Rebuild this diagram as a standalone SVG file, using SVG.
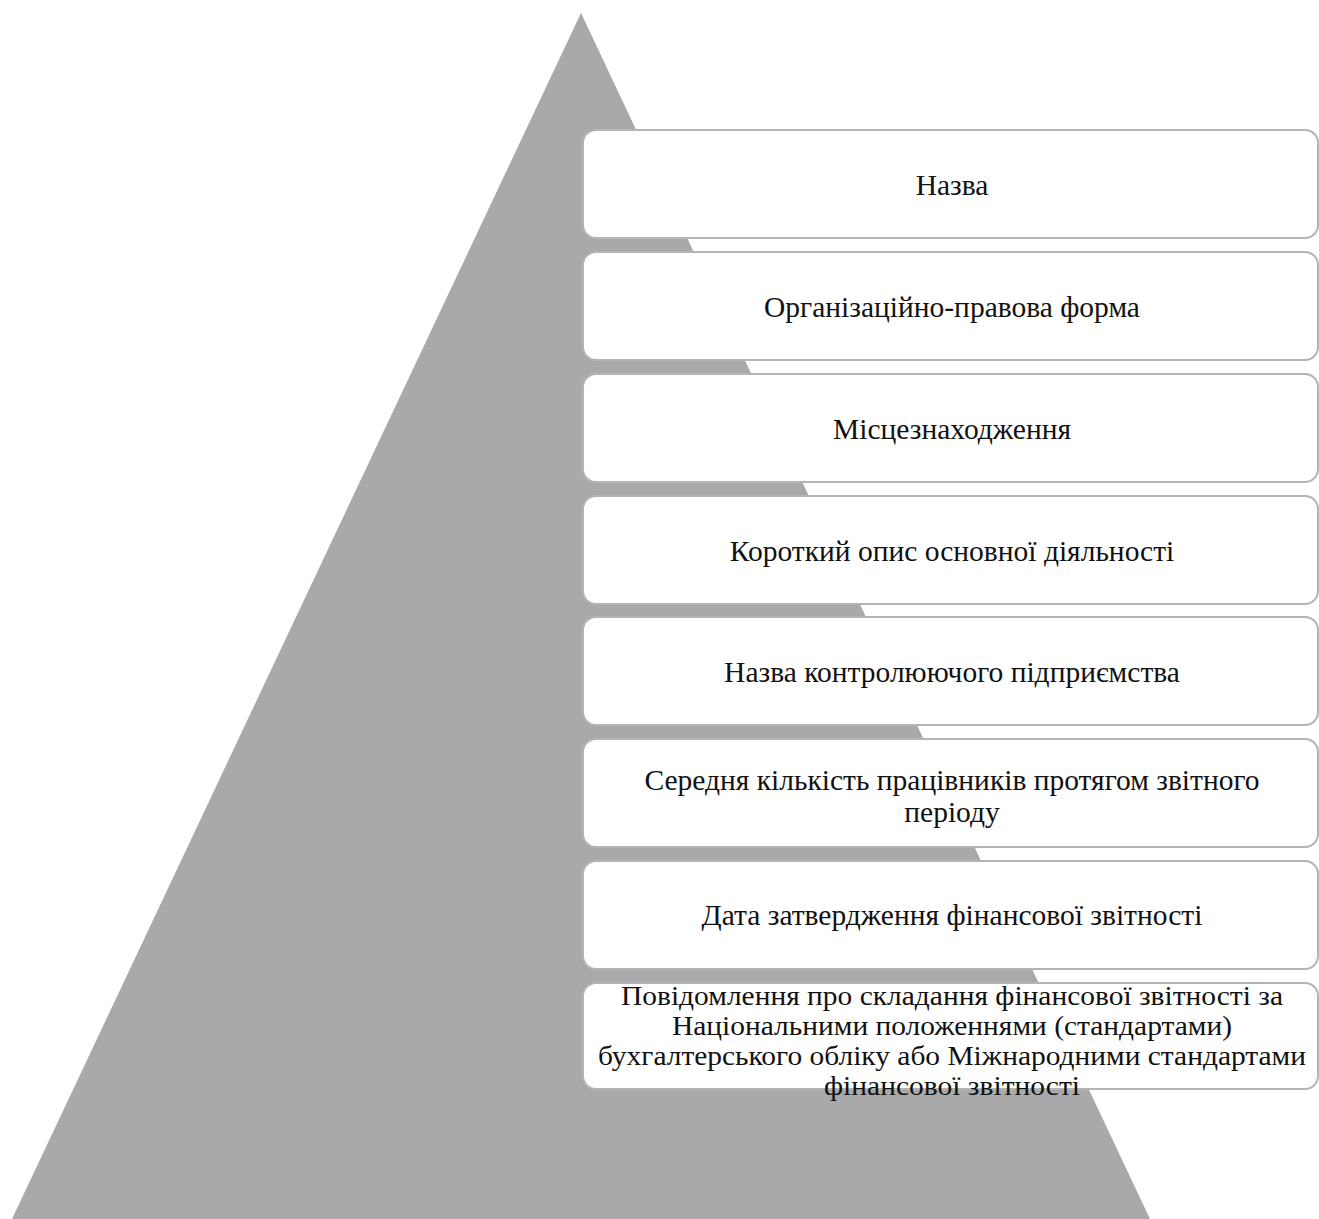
<svg xmlns="http://www.w3.org/2000/svg" width="1319" height="1219" viewBox="0 0 1319 1219">
<style>
.box{fill:#ffffff;stroke:#b4b4b4;stroke-width:2}
.t{font-family:"Liberation Serif","Times New Roman",serif;font-size:29.5px;fill:#111111;text-anchor:middle}
.s{font-size:27px}
</style>
<rect width="1319" height="1219" fill="#ffffff"/>
<polygon id="pyramid" points="581,13 12,1219 1150,1219" fill="#a9a9a9"/>
<g id="connectors"></g>
<g id="n1"><rect class="box" x="583" y="130" width="735" height="108" rx="13"/><text class="t" x="952" y="195">Назва</text></g>
<g id="n2"><rect class="box" x="583" y="252" width="735" height="108" rx="13"/><text class="t" x="952" y="317">Організаційно-правова форма</text></g>
<g id="n3"><rect class="box" x="583" y="374" width="735" height="108" rx="13"/><text class="t" x="952" y="439">Місцезнаходження</text></g>
<g id="n4"><rect class="box" x="583" y="496" width="735" height="108" rx="13"/><text class="t" x="952" y="561">Короткий опис основної діяльності</text></g>
<g id="n5"><rect class="box" x="583" y="617" width="735" height="108" rx="13"/><text class="t" x="952" y="682">Назва контролюючого підприємства</text></g>
<g id="n6"><rect class="box" x="583" y="739" width="735" height="108" rx="13"/><text class="t" x="952" y="790">Середня кількість працівників протягом звітного</text><text class="t" x="952" y="822">періоду</text></g>
<g id="n7"><rect class="box" x="583" y="861" width="735" height="108" rx="13"/><text class="t" x="952" y="925">Дата затвердження фінансової звітності</text></g>
<g id="n8"><rect class="box" x="583" y="983" width="735" height="106" rx="13"/><text class="t s" x="952" y="1005" textLength="662" lengthAdjust="spacingAndGlyphs">Повідомлення про складання фінансової звітності за</text><text class="t s" x="952" y="1035" textLength="560" lengthAdjust="spacingAndGlyphs">Національними положеннями (стандартами)</text><text class="t s" x="952" y="1065" textLength="708" lengthAdjust="spacingAndGlyphs">бухгалтерського обліку або Міжнародними стандартами</text><text class="t s" x="952" y="1095" textLength="256" lengthAdjust="spacingAndGlyphs">фінансової звітності</text></g>
</svg>
